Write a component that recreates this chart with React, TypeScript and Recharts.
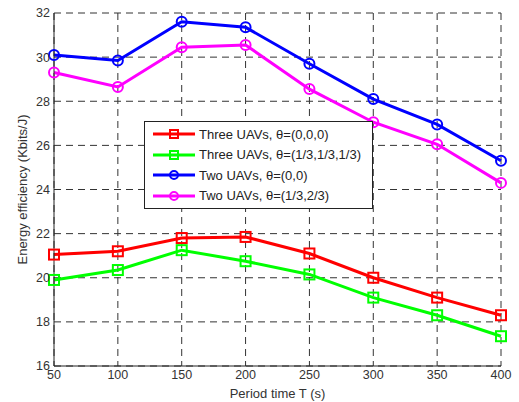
import React from 'react';
import {
  LineChart,
  Line,
  XAxis,
  YAxis,
  CartesianGrid,
  Legend
} from 'recharts';

const periods = [50, 100, 150, 200, 250, 300, 350, 400];
const threeUavsZero = [21.05, 21.2, 21.8, 21.85, 21.1, 20.0, 19.1, 18.3];
const threeUavsThird = [19.9, 20.35, 21.25, 20.75, 20.15, 19.1, 18.3, 17.35];
const twoUavsZero = [30.1, 29.85, 31.6, 31.35, 29.7, 28.1, 26.95, 25.3];
const twoUavsMixed = [29.3, 28.65, 30.45, 30.55, 28.55, 27.05, 26.05, 24.3];
const yTicks = [16, 18, 20, 22, 24, 26, 28, 30, 32];

const series = [
  { key: 'threeZero', name: 'Three UAVs, θ=(0,0,0)', color: '#ff0000', marker: 'square' },
  { key: 'threeThird', name: 'Three UAVs, θ=(1/3,1/3,1/3)', color: '#00ff00', marker: 'square' },
  { key: 'twoZero', name: 'Two UAVs, θ=(0,0)', color: '#0000ff', marker: 'circle' },
  { key: 'twoMixed', name: 'Two UAVs, θ=(1/3,2/3)', color: '#ff00ff', marker: 'circle' },
];

const data = periods.map((p, i) => ({
  period: p,
  threeZero: threeUavsZero[i],
  threeThird: threeUavsThird[i],
  twoZero: twoUavsZero[i],
  twoMixed: twoUavsMixed[i],
}));

const font = 'Arial, "Liberation Sans", sans-serif';
const tickStyle = { fontSize: 12.5, fill: '#333', fontFamily: font };
const labelStyle = { fontSize: 13, fill: '#333', fontFamily: font };

const makeDot = (color: string, marker: string) => (props: any) => {
  const { cx, cy, index } = props;
  if (cx == null || cy == null) return <g key={index} />;
  if (marker === 'square') {
    return (
      <rect key={index} x={cx - 5} y={cy - 5} width={10} height={10}
        fill="none" stroke={color} strokeWidth={2} />
    );
  }
  return <circle key={index} cx={cx} cy={cy} r={5} fill="none" stroke={color} strokeWidth={2} />;
};

// legend box sits over the middle of the plot, like the matlab figure
const renderLegend = () => (
  <div style={{
    border: '1px solid #222', background: '#fff', width: 227, height: 84,
    paddingTop: 2, boxSizing: 'content-box', fontFamily: font, fontSize: 13, color: '#222'
  }}>
    {series.map(s => (
      <div key={s.key} style={{ display: 'flex', alignItems: 'center', height: 20.5 }}>
        <svg width={54} height={14} style={{ flex: 'none' }}>
          <line x1={8} y1={7} x2={50} y2={7} stroke={s.color} strokeWidth={3} />
          {s.marker === 'square'
            ? <rect x={25} y={3} width={8} height={8} fill="none" stroke={s.color} strokeWidth={2} />
            : <circle cx={29} cy={7} r={4} fill="none" stroke={s.color} strokeWidth={2} />}
        </svg>
        <span style={{ whiteSpace: 'nowrap' }}>{s.name}</span>
      </div>
    ))}
  </div>
);

export default function App() {
  return (
    <div style={{ position: 'absolute', left: 0, top: 0, background: '#fff' }}>
      <LineChart width={519} height={402} data={data}
        margin={{ top: 13, right: 18, left: 0, bottom: 0 }}>
        <CartesianGrid stroke="#333" strokeDasharray="7 5" />
        <XAxis dataKey="period" type="number" domain={[50, 400]} ticks={periods}
          height={36} stroke="#222" tickLine={false} tickSize={0} tickMargin={4}
          tick={tickStyle}
          label={{ value: 'Period time T (s)', position: 'insideBottom', offset: 4, style: labelStyle }} />
        <XAxis xAxisId="top" dataKey="period" type="number" domain={[50, 400]} ticks={periods}
          orientation="top" height={0} stroke="#777" tick={false} mirror tickSize={3} />
        <YAxis domain={[16, 32]} ticks={yTicks} width={54} stroke="#222"
          tickLine={false} tickSize={0} tickMargin={4} tick={tickStyle}
          label={{ value: 'Energy efficiency (Kbits/J)', angle: -90, position: 'insideLeft', offset: 22,
            style: { ...labelStyle, textAnchor: 'middle' } }} />
        <YAxis yAxisId="right" orientation="right" domain={[16, 32]} ticks={yTicks} width={0}
          stroke="#222" tick={false} mirror tickSize={3} />
        {series.map(s => (
          <Line key={s.key} dataKey={s.key} name={s.name} stroke={s.color} strokeWidth={3}
            dot={makeDot(s.color, s.marker)} isAnimationActive={false} />
        ))}
        <Legend content={renderLegend} layout="vertical" align="center" verticalAlign="middle"
          wrapperStyle={{ position: 'absolute', left: 144, top: 121, width: 'auto', height: 'auto' }} />
      </LineChart>
    </div>
  );
}
